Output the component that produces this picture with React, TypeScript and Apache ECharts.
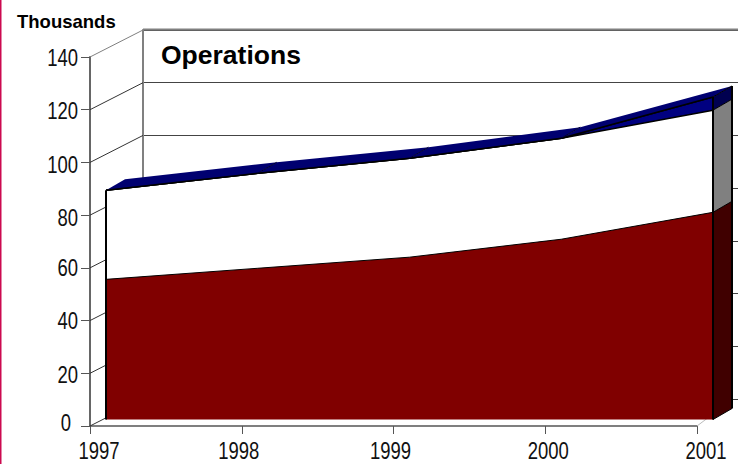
import React, { useEffect, useRef } from "react";
import * as echarts from "echarts";

const years = ["1997", "1998", "1999", "2000", "2001"];
const redValues = [53.1, 57.3, 61.5, 68.3, 78.5];
const whiteValues = [33.8, 36.0, 37.5, 38.3, 38.7];
const blueValues = [0, 0, 0, 0, 5];
const wallTicks = [0, 20, 40, 60, 80, 100, 120, 140];

// Small hand offsets of the tick labels relative to their ticks, as in the reference.
const xLabelNudge = [9, -3, -3, 3, 9];
const yLabelNudge: Record<number, number[]> = {
  0: [-7, -3],
  20: [0, 2],
  40: [0, 1],
  60: [0, 0],
  80: [0, 3],
  100: [0, 3],
  120: [0, 1],
  140: [0, 1],
};

const arial = "'Liberation Sans', Arial, sans-serif";
const labelFont = `24px ${arial}`;
const narrowScale = 0.77;
const depthX = 19;
const depthY = -11;
const wallX = 53;
const wallY = -27;

function poly(points: number[][], fill: string, z2 = 0) {
  return { type: "polygon", z2, shape: { points }, style: { fill, stroke: "none" } };
}
function seg(a: number[], b: number[], stroke: string, lineWidth: number, z2 = 5) {
  return {
    type: "line",
    z2,
    shape: { x1: a[0], y1: a[1], x2: b[0], y2: b[1] },
    style: { stroke, lineWidth, fill: "none" },
  };
}
const back = (p: number[]) => [p[0] + depthX, p[1] + depthY];

export default function App() {
  const ref = useRef<HTMLDivElement>(null);
  useEffect(() => {
    document.body.style.margin = "0";
    const chart = echarts.init(ref.current!, undefined, { renderer: "svg" });
    const totals = years.map((_, i) => redValues[i] + whiteValues[i]);
    const tops = years.map((_, i) => totals[i] + blueValues[i]);

    const option: any = {
      animation: false,
      backgroundColor: "#ffffff",
      grid: [
        { left: 143, right: 5, top: 30, bottom: 65 },
        { left: 106, right: 25, top: 50, bottom: 44.5 },
        { left: 90, right: 41, top: 57, bottom: 38 },
      ],
      xAxis: [
        { gridIndex: 0, type: "category", data: years, boundaryGap: false, show: false },
        { gridIndex: 1, type: "category", data: years, boundaryGap: false, show: false },
        {
          gridIndex: 2,
          type: "category",
          data: years,
          boundaryGap: false,
          axisLine: { lineStyle: { color: "#555555", width: 1.5 } },
          axisTick: { show: true, length: 8, alignWithLabel: true, lineStyle: { color: "#555555", width: 1 } },
          axisLabel: { show: false },
        },
      ],
      yAxis: [
        {
          gridIndex: 0,
          type: "value",
          min: 0,
          max: 140,
          interval: 20,
          position: "right",
          axisLine: { show: false },
          axisTick: { show: true, length: 5, lineStyle: { color: "#444444", width: 1 } },
          axisLabel: { show: false },
          splitLine: { show: true, lineStyle: { color: "#444444", width: 1 } },
        },
        {
          gridIndex: 0,
          type: "value",
          min: 0,
          max: 140,
          interval: 20,
          position: "left",
          axisLine: { show: true, lineStyle: { color: "#808080", width: 2 } },
          axisTick: { show: false },
          axisLabel: { show: false },
          splitLine: { show: false },
        },
        { gridIndex: 1, type: "value", min: 0, max: 140, interval: 20, show: false },
        {
          gridIndex: 2,
          type: "value",
          min: 0,
          max: 140,
          interval: 20,
          axisLine: { show: true, lineStyle: { color: "#666666", width: 2 } },
          axisTick: { show: true, length: 9, lineStyle: { color: "#555555", width: 1 } },
          axisLabel: { show: false },
          splitLine: { show: false },
        },
      ],
      graphic: [
        { type: "rect", shape: { x: 0, y: 0, width: 1.5, height: 464 }, style: { fill: "#cc0a50" } },
        { type: "line", z: 1, shape: { x1: 143, y1: 29.5, x2: 738, y2: 29.5 }, style: { stroke: "#808080", lineWidth: 2 } },
        { type: "text", x: 17, y: 12, style: { text: "Thousands", font: `bold 18.5px ${arial}`, fill: "#000000" } },
        { type: "text", x: 161, y: 41.5, style: { text: "Operations", font: `bold 26.5px ${arial}`, fill: "#000000" } },
      ],
      series: [
        {
          name: "Walls",
          type: "custom",
          xAxisIndex: 2,
          yAxisIndex: 3,
          z: 1,
          silent: true,
          data: wallTicks.map((t) => [0, t]),
          renderItem: (params: any, api: any) => {
            const t = wallTicks[params.dataIndex];
            const a = api.coord([0, t]);
            const children: any[] = [
              seg(a, [a[0] + wallX, a[1] + wallY], t === 140 ? "#808080" : "#333333", 1),
            ];
            if (t === 0) {
              const r = api.coord([years.length - 1, 0]);
              children.push(seg(r, [r[0] + 36, r[1] + wallY], "#bbbbbb", 1));
            }
            return { type: "group", children };
          },
        },
        {
          name: "YLabels",
          type: "custom",
          xAxisIndex: 2,
          yAxisIndex: 3,
          z: 6,
          silent: true,
          data: wallTicks.map((t) => [0, t]),
          renderItem: (params: any, api: any) => {
            const t = wallTicks[params.dataIndex];
            const a = api.coord([0, t]);
            const n = yLabelNudge[t];
            return {
              type: "text",
              x: a[0] - 12 + n[0],
              y: a[1] + n[1],
              scaleX: narrowScale,
              style: { text: String(t), font: labelFont, fill: "#111111", align: "right", verticalAlign: "middle" },
            };
          },
        },
        {
          name: "XLabels",
          type: "custom",
          xAxisIndex: 2,
          yAxisIndex: 3,
          z: 6,
          silent: true,
          data: years.map((_, i) => [i, 0]),
          renderItem: (params: any, api: any) => {
            const i = params.dataIndex;
            const a = api.coord([i, 0]);
            return {
              type: "text",
              x: a[0] + xLabelNudge[i],
              y: a[1] + 25.5,
              scaleX: narrowScale,
              style: { text: years[i], font: labelFont, fill: "#111111", align: "center", verticalAlign: "middle" },
            };
          },
        },
        {
          name: "Red",
          type: "line",
          xAxisIndex: 1,
          yAxisIndex: 2,
          stack: "s",
          z: 3,
          data: redValues,
          showSymbol: false,
          lineStyle: { color: "#000000", width: 1 },
          areaStyle: { color: "#800000", opacity: 1 },
        },
        {
          name: "White",
          type: "line",
          xAxisIndex: 1,
          yAxisIndex: 2,
          stack: "s",
          z: 2,
          data: whiteValues,
          showSymbol: false,
          lineStyle: { color: "#000000", width: 1.5 },
          areaStyle: { color: "#ffffff", opacity: 1 },
        },
        {
          name: "Blue",
          type: "line",
          xAxisIndex: 1,
          yAxisIndex: 2,
          stack: "s",
          z: 2,
          data: blueValues,
          showSymbol: false,
          lineStyle: { color: "#000000", width: 1.5 },
          areaStyle: { color: "#000080", opacity: 1 },
        },
        {
          name: "Depth",
          type: "custom",
          xAxisIndex: 1,
          yAxisIndex: 2,
          z: 4,
          silent: true,
          data: years.map((_, i) => [i, tops[i]]),
          renderItem: (params: any, api: any) => {
            const i = params.dataIndex;
            const last = years.length - 1;
            const c: any[] = [];
            const t0 = api.coord([i, tops[i]]);
            if (i < last) {
              const t1 = api.coord([i + 1, tops[i + 1]]);
              c.push(poly([t0, t1, back(t1), back(t0)], "#000070"));
              c.push(seg(t0, t1, "#000000", 1.5));
            }
            if (i > 0 && i < last) c.push(seg(t0, back(t0), "#000030", 1));
            if (i === 0) {
              const base = api.coord([0, 0]);
              c.push(seg(base, t0, "#000000", 2));
            }
            if (i === last) {
              const tw = api.coord([i, totals[i]]);
              const tr = api.coord([i, redValues[i]]);
              const b = api.coord([i, 0]);
              c.push(poly([t0, back(t0), back(tw), tw], "#000050"));
              c.push(poly([tw, back(tw), back(tr), tr], "#808080"));
              c.push(poly([tr, back(tr), back(b), b], "#400000"));
              c.push(seg(b, t0, "#000000", 2));
              c.push(seg(back(b), back(t0), "#000000", 2));
              c.push(seg(b, back(b), "#000000", 1));
              c.push(seg(t0, back(t0), "#000000", 1));
              c.push(seg(tw, back(tw), "#000000", 1));
              c.push(seg(tr, back(tr), "#000000", 1));
            }
            return { type: "group", children: c };
          },
        },
      ],
    };
    chart.setOption(option);
    return () => chart.dispose();
  }, []);
  return <div ref={ref} style={{ width: 738, height: 464 }} />;
}
